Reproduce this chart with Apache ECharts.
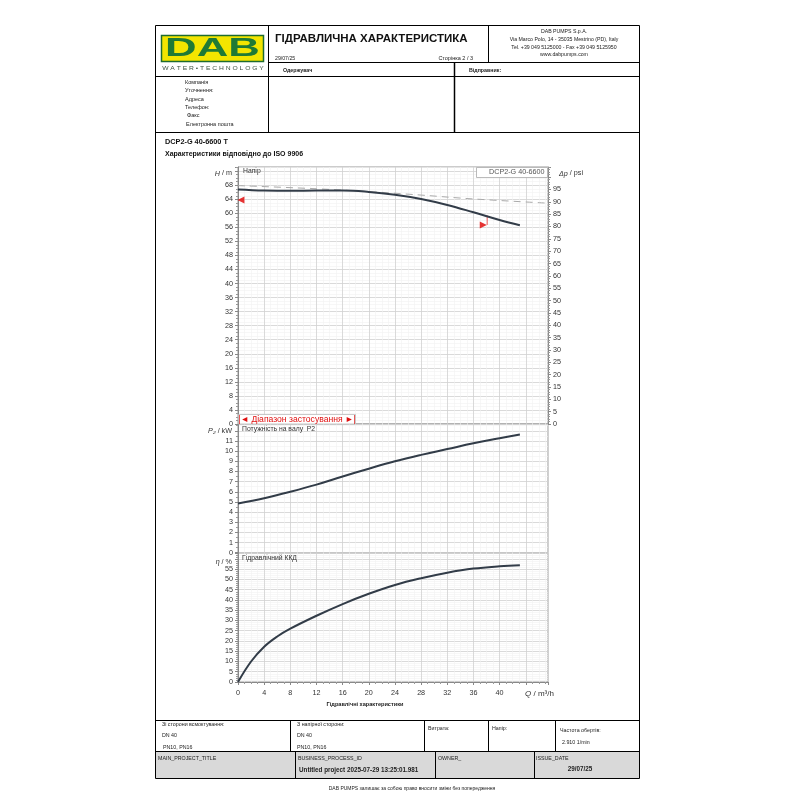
<!DOCTYPE html>
<html><head><meta charset="utf-8">
<script src="https://cdn.jsdelivr.net/npm/echarts@6/dist/echarts.min.js"></script>
<style>html,body{margin:0;padding:0;background:#fff}#c{width:800px;height:800px}</style>
</head><body><div id="c"></div>
<script>
// ---- data ----
const headQ = [0, 4, 8, 12, 16, 20, 24, 28, 32, 36, 40, 43.1];
const headH = [66.8, 66.5, 66.4, 66.5, 66.5, 66.1, 65.3, 64.1, 62.4, 60.3, 58.1, 56.6];
const refQ = [0, 12, 20, 28, 36, 47.4];
const refH = [67.9, 67.0, 66.2, 65.2, 64.1, 62.9];
const powerQ = [0, 4, 8, 12, 16, 20, 24, 28, 32, 36, 40, 43.1];
const powerP = [4.85, 5.37, 6.0, 6.7, 7.5, 8.27, 9.0, 9.63, 10.2, 10.77, 11.27, 11.64];
const effQ = [0, 2, 4, 6, 8, 12, 16, 20, 24, 28, 32, 36, 40, 43.1];
const effE = [0, 10.0, 17.2, 22.2, 26.0, 32.3, 38.0, 43.0, 47.3, 50.6, 53.3, 55.3, 56.4, 56.9];
const rangeLeft = [0.45, 63.8];
const rangeRight = [37.5, 56.7];
const rangeLineQ = [38.1, 38.1];
const rangeLineH = [56.7, 59.4];
const xTicks = [0, 4, 8, 12, 16, 20, 24, 28, 32, 36, 40];
const seriesName = 'DCP2-G 40-6600';

const FF = '"Liberation Sans", Arial, sans-serif';
const zip = (a, b) => a.map((v, i) => [v, b[i]]);

// ---- graphic helpers ----
const G = [];
function T(x, y, text, o = {}) {
  G.push({type: 'text', x, y, z: 100, silent: true, scaleX: o.sx || 1,
    style: {text, fill: o.color || '#222', fontSize: o.size || 6, fontFamily: FF,
      fontWeight: o.bold ? 'bold' : 'normal', fontStyle: o.italic ? 'italic' : 'normal',
      align: o.align || 'left', verticalAlign: 'middle', rich: o.rich}});
}
function L(x1, y1, x2, y2, c = '#000', w = 1) {
  G.push({type: 'line', z: 90, silent: true, shape: {x1, y1, x2, y2}, style: {stroke: c, lineWidth: w}});
}
function R(x, y, w, h, fill, stroke, lw = 1, z = 5) {
  G.push({type: 'rect', z, silent: true, shape: {x, y, width: w, height: h}, style: {fill, stroke, lineWidth: lw}});
}

// page frame & header
R(155.5, 752, 483.5, 26, '#d9d9d9', null, 0, 1);
L(155.5, 25.5, 639.5, 25.5);
L(155.5, 25.5, 155.5, 778.5);
L(639.5, 25.5, 639.5, 778.5);
L(268.5, 25.5, 268.5, 132.5);
L(488.5, 25.5, 488.5, 62.5);
L(268.5, 62.5, 639.5, 62.5);
L(155.5, 76.5, 639.5, 76.5);
L(454.5, 62.5, 454.5, 132.5, '#000', 1.5);
L(155.5, 132.5, 639.5, 132.5);
L(155.5, 720.5, 639.5, 720.5);
L(155.5, 751.5, 639.5, 751.5);
L(155.5, 778.5, 639.5, 778.5);
L(290.5, 720.5, 290.5, 751.5);
L(424.5, 720.5, 424.5, 751.5);
L(488.5, 720.5, 488.5, 751.5);
L(555.5, 720.5, 555.5, 751.5);
L(295.5, 751.5, 295.5, 778.5);
L(435.5, 751.5, 435.5, 778.5);
L(534.5, 751.5, 534.5, 778.5);

// logo
R(161.5, 35.5, 102, 26, '#f3e500', '#1d6b2f', 1.5, 50);
T(212.5, 49, 'DAB', {size: 25, bold: true, color: '#1f7a35', align: 'center', sx: 1.75});
T(213, 68, 'W A T E R • T E C H N O L O G Y', {size: 6, color: '#3f5443', align: 'center', sx: 1.12});

// header texts
T(275, 39, 'ГІДРАВЛИЧНА ХАРАКТЕРИСТИКА', {size: 11.5, bold: true, color: '#111'});
T(275, 58.3, '29/07/25', {size: 5.2});
T(473, 58.3, 'Сторінка 2 / 3', {size: 5.5, align: 'right'});
T(564, 31.7, 'DAB PUMPS S.p.A.', {size: 5.2, align: 'center'});
T(564, 40, 'Via Marco Polo, 14 - 35035 Mestrino (PD), Italy', {size: 5.2, align: 'center'});
T(564, 47.3, 'Tel. +39 049 5125000 - Fax +39 049 5125950', {size: 5.2, align: 'center'});
T(564, 54.3, 'www.dabpumps.com', {size: 5.2, align: 'center'});
T(283, 71, 'Одержувач', {size: 5.3, bold: true});
T(469, 71, 'Відправник:', {size: 5.3, bold: true});
T(185, 82.3, 'Компанія', {size: 5.5});
T(185, 90.5, 'Уточнення:', {size: 5.5});
T(185, 99.3, 'Адреса', {size: 5.5});
T(185, 107.7, 'Телефон:', {size: 5.5});
T(187, 115.7, 'Факс', {size: 5.5});
T(186, 124, 'Електронна пошта', {size: 5.5});

// chart titles
T(165, 142, 'DCP2-G 40-6600 T', {size: 7.3, bold: true, color: '#111'});
T(165, 154.5, 'Характеристики відповідно до ISO 9906', {size: 7, bold: true, color: '#111'});

// axis names and panel labels
const nm = {size: 7.2, color: '#333'};
const it = {i: {fontStyle: 'italic', fontSize: 7.2, fontFamily: FF, fill: '#333'}};
T(232, 173.5, '{i|H} / m', {...nm, align: 'right', rich: it});
T(559, 173.5, '{i|Δp} / psi', {...nm, rich: it});
T(232, 431, '{i|P₂} / kW', {...nm, align: 'right', rich: it});
T(232, 562, '{i|η} / %', {...nm, align: 'right', rich: it});
T(525, 694, '{i|Q} / m³/h', {size: 8, color: '#333', rich: {i: {fontStyle: 'italic', fontSize: 8, fontFamily: FF, fill: '#333'}}});
T(243, 171, 'Напір', {size: 6.8, color: '#333'});
T(242, 429, 'Потужність на валу  P2', {size: 6.8, color: '#333'});
T(242, 557.7, 'Гідравлічний ККД', {size: 6.8, color: '#333'});
T(365, 704.5, 'Гідравлічні характеристики', {size: 5.6, bold: true, align: 'center'});

// legend box
R(476.5, 167.5, 71, 10, '#fff', '#aaa', 0.8, 95);
L(479.5, 172.5, 486.5, 172.5, '#999', 1);
T(489, 172.5, seriesName, {size: 7.2, color: '#555'});

// application range box
R(238.5, 414.5, 117, 9.5, '#fff', '#bbb', 0.8, 95);
T(297, 419.5, '|◄ Діапазон застосування ►|', {size: 8.6, color: '#e01010', align: 'center'});

// footer texts
T(162, 724.5, 'Зі сторони всмоктування:', {size: 5.3});
T(162, 736, 'DN 40', {size: 5.3});
T(163, 748, 'PN10, PN16', {size: 5.3});
T(297, 724.5, 'З напірної сторони:', {size: 5.3});
T(297, 736, 'DN 40', {size: 5.3});
T(297, 748, 'PN10, PN16', {size: 5.3});
T(428, 729, 'Витрата:', {size: 5.3});
T(492, 729, 'Напір:', {size: 5.3});
T(560, 731, 'Частота обертів:', {size: 5.3});
T(562, 743, '2.910 1/min', {size: 5.3});
T(158, 759, 'MAIN_PROJECT_TITLE', {size: 5.3});
T(298, 759, 'BUSINESS_PROCESS_ID', {size: 5.3});
T(438, 759, 'OWNER_', {size: 5.3});
T(536, 759, 'ISSUE_DATE', {size: 5.3});
T(299, 770, 'Untitled project 2025-07-29 13:25:01.981', {size: 6.3, bold: true});
T(580, 769.5, '29/07/25', {size: 6.3, bold: true, align: 'center'});
T(412, 788.5, 'DAB PUMPS залишає за собою право вносити зміни без попередження', {size: 5, align: 'center'});

// ---- axes ----
const labelStyle = {fontSize: 7.2, color: '#333', fontFamily: FF};
function xAx(i, showLabels) {
  return {gridIndex: i, type: 'value', min: 0, max: 47.4, interval: 4,
    axisLine: {show: showLabels, onZero: false, lineStyle: {color: '#888', width: 1}},
    axisTick: {show: showLabels, length: 3, lineStyle: {color: '#888'}},
    minorTick: {show: showLabels, splitNumber: 4, length: 2, lineStyle: {color: '#999'}},
    axisLabel: {show: showLabels, ...labelStyle, margin: 8, showMaxLabel: false,
      formatter: v => xTicks.includes(v) ? String(v) : ''},
    splitLine: {show: true, lineStyle: {color: '#d0d0d0', width: 0.8}},
    minorSplitLine: {show: true, lineStyle: {color: '#f1f1f1', width: 0.6}}};
}
function yAx(i, max, interval, hideAbove, minorN, pos) {
  return {gridIndex: i, type: 'value', min: 0, max, interval, position: pos || 'left',
    axisLine: {show: true, onZero: false, lineStyle: {color: '#888', width: 1}},
    axisTick: {show: true, length: 3, lineStyle: {color: '#888'}},
    minorTick: {show: true, splitNumber: minorN, length: 2, lineStyle: {color: '#999'}},
    axisLabel: {...labelStyle, margin: 5, showMaxLabel: false,
      formatter: v => v >= hideAbove ? '' : String(v)},
    splitLine: {show: pos !== 'right', lineStyle: {color: '#d0d0d0', width: 0.8}},
    minorSplitLine: {show: pos !== 'right', lineStyle: {color: '#f1f1f1', width: 0.6}}};
}

const gridBase = {left: 238, width: 310, show: true, borderColor: '#999', borderWidth: 1, backgroundColor: '#fff'};
const curve = {color: '#323c48', width: 2};
const option = {
  animation: false,
  backgroundColor: '#fff',
  grid: [
    {...gridBase, top: 167, height: 257},
    {...gridBase, top: 424, height: 128.7},
    {...gridBase, top: 553, height: 129}
  ],
  xAxis: [xAx(0, false), xAx(1, false), xAx(2, true)],
  yAxis: [
    yAx(0, 73.2, 4, 70, 4),
    yAx(0, 104.1, 5, 99, 5, 'right'),
    yAx(1, 12.67, 1, 12, 2),
    yAx(2, 62.9, 5, 60, 5)
  ],
  series: [
    {type: 'line', name: 'ref', xAxisIndex: 0, yAxisIndex: 0, data: zip(refQ, refH), smooth: 0.4,
      symbol: 'none', lineStyle: {color: '#aaaaaa', width: 1, type: [7, 5]}, z: 3},
    {type: 'line', name: seriesName, xAxisIndex: 0, yAxisIndex: 0, data: zip(headQ, headH), smooth: 0.4,
      symbol: 'none', lineStyle: curve, z: 4},
    {type: 'line', name: 'range', xAxisIndex: 0, yAxisIndex: 0, data: zip(rangeLineQ, rangeLineH),
      symbol: 'none', lineStyle: {color: '#e83030', width: 0.8}, z: 3},
    {type: 'scatter', xAxisIndex: 0, yAxisIndex: 0, data: [rangeLeft], symbol: 'triangle', symbolRotate: 90,
      symbolSize: 7, itemStyle: {color: '#e00000'}, z: 5},
    {type: 'scatter', xAxisIndex: 0, yAxisIndex: 0, data: [rangeRight], symbol: 'triangle', symbolRotate: -90,
      symbolSize: 7, itemStyle: {color: '#e00000'}, z: 5},
    {type: 'line', name: 'P2', xAxisIndex: 1, yAxisIndex: 2, data: zip(powerQ, powerP), smooth: 0.4,
      symbol: 'none', lineStyle: curve},
    {type: 'line', name: 'eta', xAxisIndex: 2, yAxisIndex: 3, data: zip(effQ, effE), smooth: 0.4,
      symbol: 'none', lineStyle: curve}
  ],
  graphic: G
};
const chart = echarts.init(document.getElementById('c'), null, {renderer: 'canvas'});
chart.setOption(option);
</script></body></html>
